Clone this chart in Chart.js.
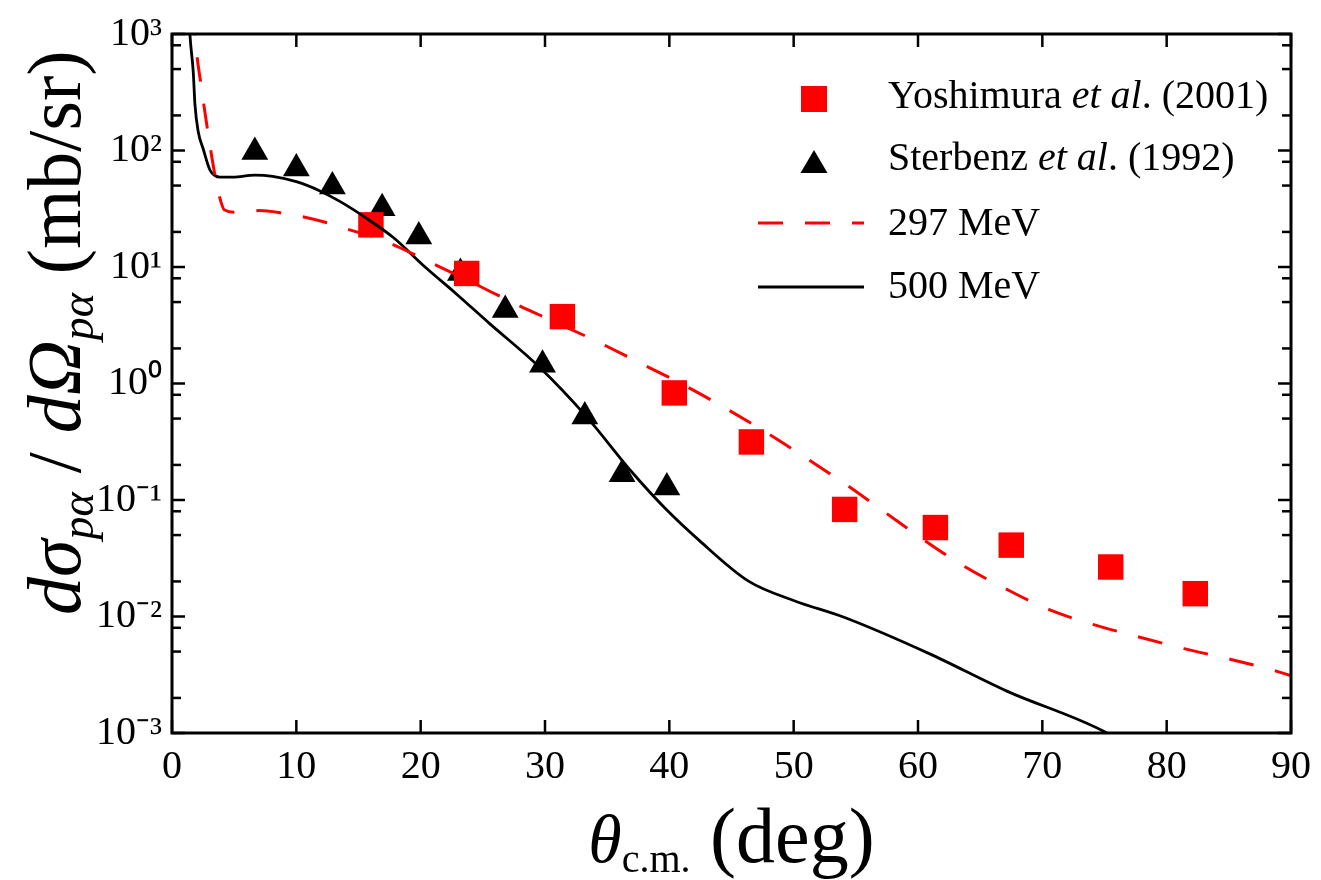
<!DOCTYPE html>
<html>
<head>
<meta charset="utf-8">
<script src="https://cdn.jsdelivr.net/npm/chart.js@4.4.1/dist/chart.umd.min.js"></script>
<style>
  html, body { margin: 0; padding: 0; background: #fff; }
</style>
</head>
<body>
<canvas id="chart" width="1321" height="880"></canvas>
<script>
// Yoshimura et al. (2001) data, squares
const yoshimuraAngle = [16.0, 23.7, 31.4, 40.4, 46.6, 54.1, 61.4, 67.5, 75.5, 82.3];
const yoshimuraValue = [23.0, 8.8, 3.75, 0.83, 0.315, 0.083, 0.058, 0.041, 0.0266, 0.0157];

// Sterbenz et al. (1992) data, triangles
const sterbenzAngle = [6.66, 10.0, 12.9, 16.9, 19.85, 23.2, 26.8, 29.8, 33.2, 36.2, 39.8];
const sterbenzValue = [97, 70, 49, 32, 18.3, 8.9, 4.27, 1.45, 0.52, 0.166, 0.128];

// 297 MeV calculation (dashed red)
const calc297Angle = [1.75, 1.85, 2.38, 3.05, 3.45, 3.85, 4.2, 5.2, 7.0, 8.9, 10.5, 12.7, 14.55, 16.4, 18.3,
  20.6, 24.1, 27.7, 31.0, 34.35, 37.7, 41.2, 44.5, 47.8, 51.0, 54.2, 57.3, 60.4, 63.6, 67.0, 70.5,
  74.0, 77.7, 81.4, 85.1, 88.8, 90.0];
const calc297Value = [1600, 1000, 340, 111, 62, 39, 31, 29.5, 30.5, 29, 27, 23.6, 20.4, 17.9, 14.7,
  11.2, 7.4, 4.78, 3.3, 2.25, 1.49, 0.966, 0.615, 0.379, 0.229, 0.136, 0.079, 0.046, 0.0274, 0.0174, 0.0115,
  0.0086, 0.0067, 0.0053, 0.0043, 0.0034, 0.0031];

// 500 MeV calculation (solid black)
const calc500Angle = [1.35, 1.44, 1.71, 1.85, 2.11, 2.5, 3.05, 3.45, 3.85, 4.9, 6.66, 8.1, 10.0, 11.9, 13.5,
  15.6, 17.8, 20.4, 22.85, 25.5, 29.5, 33.3, 37.0, 39.7, 42.4, 46.4, 50.1, 54.1, 60.9, 67.1, 75.2, 76.0];
const calc500Value = [1600, 1000, 470, 245, 145, 104, 68, 61, 59, 59, 61.5, 60, 54, 45, 36.6,
  26.4, 17.9, 9.9, 5.9, 3.3, 1.4, 0.525, 0.173, 0.084, 0.045, 0.020, 0.0136, 0.0098, 0.0048, 0.0023, 0.001, 0.00088];

const xTicks = [0, 10, 20, 30, 40, 50, 60, 70, 80, 90];
const yDecades = [-3, -2, -1, 0, 1, 2, 3];
const yMinor = [2, 5, 8];

const SERIF = "'Liberation Serif', 'Times New Roman', serif";
const supDigits = { '-': '\u207B', '0': '\u2070', '1': '\u00B9', '2': '\u00B2', '3': '\u00B3' };
const toPoints = (xs, ys) => xs.map((x, i) => ({ x: x, y: ys[i] }));

// draw a run of text pieces one after another along the baseline
function drawRuns(ctx, runs, x, y) {
  let cx = x;
  runs.forEach(r => {
    ctx.font = r.font;
    ctx.fillText(r.text, cx, y + (r.dy || 0));
    cx += ctx.measureText(r.text).width;
  });
  return cx - x;
}
function runsWidth(ctx, runs) {
  let w = 0;
  runs.forEach(r => { ctx.font = r.font; w += ctx.measureText(r.text).width; });
  return w;
}

const framePlugin = {
  id: 'frame',
  afterDatasetsDraw(chart) {
    const { ctx, chartArea: a, scales: { x, y } } = chart;
    ctx.save();
    ctx.strokeStyle = '#000';
    ctx.lineWidth = 2.5;
    const seg = (x1, y1, x2, y2) => { ctx.beginPath(); ctx.moveTo(x1, y1); ctx.lineTo(x2, y2); ctx.stroke(); };
    xTicks.forEach(v => {
      const px = x.getPixelForValue(v);
      seg(px, a.bottom, px, a.bottom - 13);
      seg(px, a.top, px, a.top + 13);
    });
    yDecades.forEach(e => {
      [1].concat(yMinor).forEach(m => {
        const val = m * Math.pow(10, e);
        if (val > 1000) return;
        const len = m === 1 ? 13 : 9;
        const py = y.getPixelForValue(val);
        seg(a.left, py, a.left + len, py);
        seg(a.right, py, a.right - len, py);
      });
    });
    ctx.lineWidth = 3;
    ctx.strokeRect(a.left, a.top, a.right - a.left, a.bottom - a.top);
    ctx.restore();
  },
  afterDraw(chart) {
    const { ctx, chartArea: a } = chart;
    ctx.save();
    ctx.fillStyle = '#000';
    ctx.textBaseline = 'alphabetic';

    // x axis title
    const xRuns = [
      { text: '\u03B8', font: `italic 68px ${SERIF}` },
      { text: 'c.m.', font: `40px ${SERIF}`, dy: 10 },
      { text: ' (deg)', font: `78px ${SERIF}` }
    ];
    const xw = runsWidth(ctx, xRuns);
    drawRuns(ctx, xRuns, (a.left + a.right) / 2 - xw / 2, 862);

    // y axis title, rotated
    const yRuns = [
      { text: 'd\u03C3', font: `italic 76px ${SERIF}` },
      { text: 'p\u03B1', font: `italic 46px ${SERIF}`, dy: 13 },
      { text: ' / ', font: `76px ${SERIF}` },
      { text: 'd\u03A9', font: `italic 76px ${SERIF}` },
      { text: 'p\u03B1', font: `italic 46px ${SERIF}`, dy: 13 },
      { text: ' (mb/sr)', font: `76px ${SERIF}` }
    ];
    ctx.save();
    ctx.translate(80, 615);
    ctx.rotate(-Math.PI / 2);
    drawRuns(ctx, yRuns, 0, 0);
    ctx.restore();

    // legend
    const lx = 888;
    ctx.fillStyle = '#ff0000';
    ctx.fillRect(801, 86, 26, 26);
    ctx.fillStyle = '#000';
    ctx.beginPath();
    ctx.moveTo(814, 150); ctx.lineTo(827.5, 173); ctx.lineTo(800.5, 173); ctx.closePath();
    ctx.fill();

    ctx.lineWidth = 3;
    ctx.strokeStyle = '#ff0000';
    ctx.setLineDash([25, 22]);
    ctx.beginPath(); ctx.moveTo(758, 223); ctx.lineTo(864, 223); ctx.stroke();
    ctx.setLineDash([]);
    ctx.strokeStyle = '#000';
    ctx.lineWidth = 2.8;
    ctx.beginPath(); ctx.moveTo(758, 287); ctx.lineTo(864, 287); ctx.stroke();

    ctx.fillStyle = '#000';
    drawRuns(ctx, [
      { text: 'Yoshimura ', font: `40px ${SERIF}` },
      { text: 'et al', font: `italic 40px ${SERIF}` },
      { text: '. (2001)', font: `40px ${SERIF}` }
    ], lx, 108);
    drawRuns(ctx, [
      { text: 'Sterbenz ', font: `40px ${SERIF}` },
      { text: 'et al', font: `italic 40px ${SERIF}` },
      { text: '. (1992)', font: `40px ${SERIF}` }
    ], lx, 170);
    drawRuns(ctx, [{ text: '297 MeV', font: `40px ${SERIF}` }], lx, 235);
    drawRuns(ctx, [{ text: '500 MeV', font: `40px ${SERIF}` }], lx, 298);
    ctx.restore();
  }
};

const ctx = document.getElementById('chart').getContext('2d');
new Chart(ctx, {
  type: 'scatter',
  data: {
    datasets: [
      {
        label: 'Yoshimura et al. (2001)',
        data: toPoints(yoshimuraAngle, yoshimuraValue),
        pointStyle: 'rect',
        pointRadius: 18,
        backgroundColor: '#ff0000',
        borderWidth: 0,
        pointBorderWidth: 0,
        order: 2
      },
      {
        label: 'Sterbenz et al. (1992)',
        data: toPoints(sterbenzAngle, sterbenzValue),
        pointStyle: 'triangle',
        pointRadius: 15.5,
        backgroundColor: '#000',
        borderWidth: 0,
        pointBorderWidth: 0,
        order: 2
      },
      {
        label: '297 MeV',
        data: toPoints(calc297Angle, calc297Value),
        showLine: true,
        pointRadius: 0,
        borderColor: '#ff0000',
        borderWidth: 3,
        borderDash: [25, 22],
        cubicInterpolationMode: 'monotone',
        order: 1
      },
      {
        label: '500 MeV',
        data: toPoints(calc500Angle, calc500Value),
        showLine: true,
        pointRadius: 0,
        borderColor: '#000',
        borderWidth: 2.8,
        cubicInterpolationMode: 'monotone',
        order: 1
      }
    ]
  },
  options: {
    responsive: false,
    animation: false,
    devicePixelRatio: 1,
    layout: { padding: { top: 30, right: 28, left: 0, bottom: 0 } },
    plugins: {
      legend: { display: false },
      tooltip: { enabled: false }
    },
    scales: {
      x: {
        type: 'linear',
        min: 0,
        max: 90,
        afterBuildTicks: s => { s.ticks = xTicks.map(v => ({ value: v })); },
        afterFit: s => { s.height = 147; },
        ticks: {
          font: { family: SERIF, size: 40 },
          color: '#000',
          padding: 10,
          maxRotation: 0,
          autoSkip: false
        },
        grid: { display: false, drawTicks: false },
        border: { display: false }
      },
      y: {
        type: 'logarithmic',
        min: 0.001,
        max: 1000,
        afterBuildTicks: s => { s.ticks = yDecades.map(e => ({ value: Math.pow(10, e) })); },
        afterFit: s => { s.width = 172; },
        ticks: {
          callback: v => '10' + String(Math.round(Math.log10(v))).split('').map(c => supDigits[c]).join(''),
          font: { family: SERIF, size: 40 },
          color: '#000',
          padding: 10,
          autoSkip: false
        },
        grid: { display: false, drawTicks: false },
        border: { display: false }
      }
    }
  },
  plugins: [framePlugin]
});
</script>
</body>
</html>
